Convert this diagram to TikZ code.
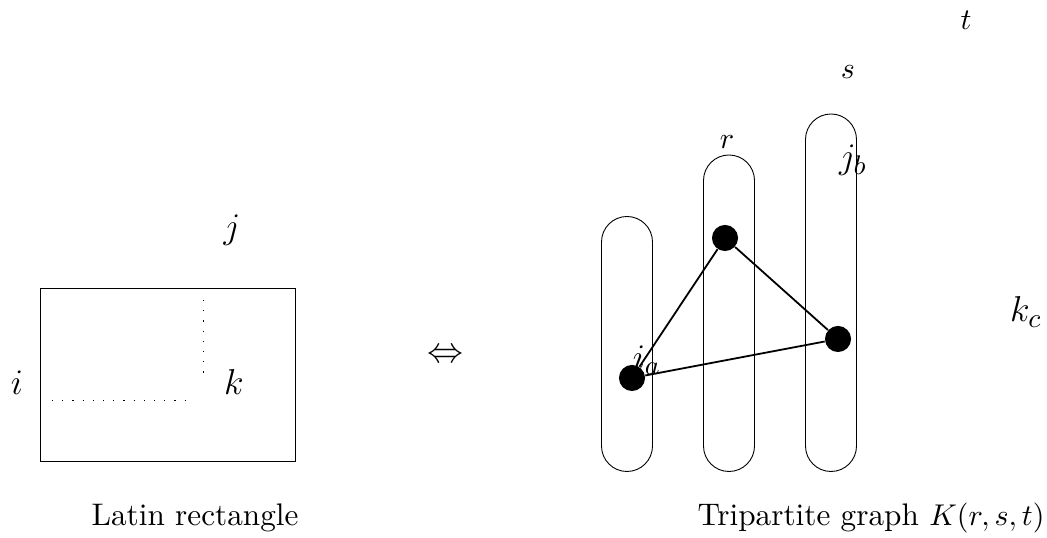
\documentclass[tikz,border=0pt]{standalone}
\usepackage{amsmath,amssymb}

\begin{document}
\begin{tikzpicture}[x=0.3333pt,y=-0.3333pt,line width=.3pt,
  vertex/.style={circle,fill=black,inner sep=0pt,minimum size=8.7pt},
  dots/.style={dash pattern=on .4pt off 3pt},
  txt/.style={font=\fontsize{10.4}{12}\selectfont},
  big/.style={inner sep=0pt,font=\fontsize{13}{15}\selectfont}]
\path[use as bounding box] (0,0) rectangle (1047,538);
% Latin rectangle
\draw (40,288) rectangle (295,461);
\draw[dots] (203,300) -- (203,376);
\draw[dots] (52,400) -- (194,400);
\node[big] (i) at (17,383) {$i$};
\node[big] (j) at (232,230) {$j$};
\node[big] (k) at (234,382) {$k$};
\node[txt] (lr) at (195,518) {Latin rectangle};
\node[big] (iff) at (445,356) {$\Leftrightarrow$};
% tripartite graph
\draw (601.5,242) -- (601.5,446) arc[start angle=180,end angle=0,radius=25.5]
  -- (652.5,242) arc[start angle=0,end angle=-180,radius=25.5] -- cycle;
\draw (703.5,180.5) -- (703.5,446) arc[start angle=180,end angle=0,radius=25.5]
  -- (754.5,180.5) arc[start angle=0,end angle=-180,radius=25.5] -- cycle;
\draw (805.5,139.5) -- (805.5,446) arc[start angle=180,end angle=0,radius=25.5]
  -- (856.5,139.5) arc[start angle=0,end angle=-180,radius=25.5] -- cycle;
\node[vertex] (a) at (632,378) {};
\node[vertex] (b) at (725,238) {};
\node[vertex] (c) at (838,339) {};
\draw[line width=.6pt] (a) -- (b) -- (c) -- (a);
\node[inner sep=0pt,txt] (r) at (727,142) {$r$};
\node[inner sep=0pt,txt] (s) at (848,72) {$s$};
\node[inner sep=0pt,txt] (t) at (966,20) {$t$};
\node[big] (jb) at (853,160) {$j_b$};
\node[big] (ia) at (647,360) {$i_a$};
\node[big] (kc) at (1026,312) {$k_c$};
\node[txt] (tg) at (871,518) {Tripartite graph $K(r,s,t)$};
\end{tikzpicture}
\end{document}
